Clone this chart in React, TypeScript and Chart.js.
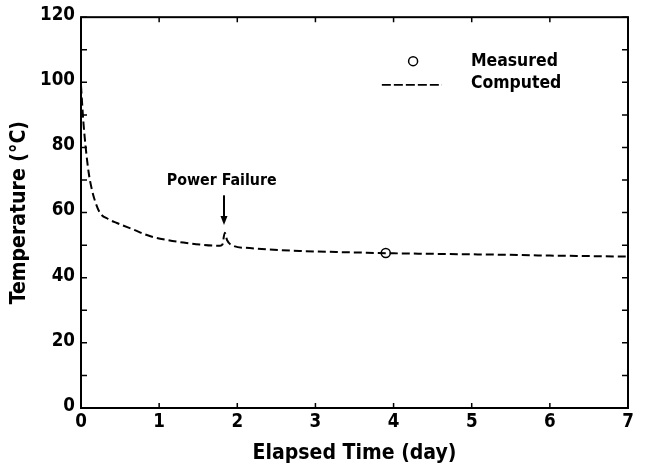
import React, { useEffect, useRef } from "react";
import { Chart, registerables } from "chart.js";

Chart.register(...registerables);

const timeDays = [0, 0.03, 0.06, 0.1, 0.14, 0.18, 0.24, 0.35, 0.46, 0.67, 0.88, 1.1, 1.31, 1.52, 1.78, 1.81, 1.84, 1.87, 1.95, 2.16, 2.38, 2.8, 3.44, 4.0, 4.6, 5.28, 6.0, 7.0];
const computedTemp = [99, 88, 80, 72, 67, 63.5, 60, 58, 56.8, 54.8, 52.8, 51.6, 50.8, 50.2, 49.8, 50.2, 53.8, 51.5, 49.8, 49.1, 48.7, 48.2, 47.8, 47.5, 47.3, 47.1, 46.8, 46.5];
const measuredTime = [3.9];
const measuredTemp = [47.6];
const xTicks = [0, 1, 2, 3, 4, 5, 6, 7];
const yTicks = [0, 20, 40, 60, 80, 100, 120];
const yMinorTicks = [10, 30, 50, 70, 90, 110];
const legendLabels = ["Measured", "Computed"];
const annotationText = "Power Failure";
const xTitle = "Elapsed Time (day)";
const yTitle = "Temperature (°C)";

const CANDIDATES = ["Liberation Sans Narrow", "DejaVu Sans Condensed", "Arial Narrow"];

function pickFamily(): string {
  const c = document.createElement("canvas").getContext("2d")!;
  const s = "abcdefghijklmnopqrstuvwxyz ABCDEFGHIJ 0123456789";
  for (const name of CANDIDATES) {
    let differs = false;
    for (const base of ["monospace", "serif"]) {
      c.font = `bold 20px ${base}`;
      const w1 = c.measureText(s).width;
      c.font = `bold 20px '${name}', ${base}`;
      const w2 = c.measureText(s).width;
      if (Math.abs(w1 - w2) > 0.5) differs = true;
    }
    if (differs) return `'${name}', 'Liberation Sans', Arial, sans-serif`;
  }
  return "'Liberation Sans', Arial, sans-serif";
}

function fitSize(family: string, text: string, target: number, maxSize: number): number {
  const c = document.createElement("canvas").getContext("2d")!;
  c.font = `bold 100px ${family}`;
  const w = c.measureText(text).width;
  return Math.min(maxSize, (100 * target) / w);
}

export default function App() {
  const ref = useRef<HTMLCanvasElement | null>(null);
  useEffect(() => {
    if (!ref.current) return;
    const FONT = pickFamily();
    const tickSize = fitSize(FONT, "120", 35, 24);
    const titleSize = fitSize(FONT, xTitle, 204, 28);
    const legendSize = fitSize(FONT, legendLabels[0], 87, 24);
    const annSize = fitSize(FONT, annotationText, 110, 22);

    const framePlugin = {
      id: "frame",
      afterDatasetsDraw(chart: any) {
        const { ctx, chartArea: a, scales } = chart;
        const xs = scales.x;
        const ys = scales.y;
        ctx.save();
        ctx.strokeStyle = "#000";
        ctx.fillStyle = "#000";
        ctx.lineWidth = 2;
        ctx.strokeRect(a.left, a.top, a.right - a.left, a.bottom - a.top);
        ctx.lineWidth = 1.5;
        xTicks.forEach((v) => {
          const px = xs.getPixelForValue(v);
          ctx.beginPath();
          ctx.moveTo(px, a.bottom);
          ctx.lineTo(px, a.bottom - 5);
          ctx.moveTo(px, a.top);
          ctx.lineTo(px, a.top + 5);
          ctx.stroke();
        });
        [...yTicks, ...yMinorTicks].forEach((v) => {
          const py = ys.getPixelForValue(v);
          ctx.beginPath();
          ctx.moveTo(a.left, py);
          ctx.lineTo(a.left + 6, py);
          ctx.moveTo(a.right, py);
          ctx.lineTo(a.right - 6, py);
          ctx.stroke();
        });
        // Legend
        const cx = xs.getPixelForValue(4.25);
        const ly1 = ys.getPixelForValue(106.5);
        const ly2 = ys.getPixelForValue(99.5);
        const lineL = xs.getPixelForValue(3.85);
        const lineR = xs.getPixelForValue(4.62);
        const textX = xs.getPixelForValue(4.99);
        ctx.lineWidth = 1.5;
        ctx.beginPath();
        ctx.arc(cx, ly1, 4.5, 0, Math.PI * 2);
        ctx.stroke();
        ctx.lineWidth = 1.8;
        ctx.setLineDash([9, 3]);
        ctx.beginPath();
        ctx.moveTo(lineL, ly2 + 1);
        ctx.lineTo(lineR, ly2 + 1);
        ctx.stroke();
        ctx.setLineDash([]);
        ctx.font = `bold ${legendSize}px ${FONT}`;
        ctx.textBaseline = "middle";
        ctx.textAlign = "left";
        ctx.fillText(legendLabels[0], textX, ly1);
        ctx.fillText(legendLabels[1], textX, ly2);
        // annotation
        const ax = xs.getPixelForValue(1.83);
        ctx.textAlign = "center";
        ctx.font = `bold ${annSize}px ${FONT}`;
        ctx.fillText(annotationText, xs.getPixelForValue(1.8), ys.getPixelForValue(69.8));
        ctx.lineWidth = 2;
        ctx.beginPath();
        ctx.moveTo(ax, ys.getPixelForValue(65.3));
        ctx.lineTo(ax, ys.getPixelForValue(58));
        ctx.stroke();
        const tipY = ys.getPixelForValue(56.2);
        ctx.beginPath();
        ctx.moveTo(ax, tipY);
        ctx.lineTo(ax - 3.5, tipY - 9);
        ctx.lineTo(ax + 3.5, tipY - 9);
        ctx.closePath();
        ctx.fill();
        ctx.restore();
      },
    };

    const chart = new Chart(ref.current, {
      type: "scatter",
      data: {
        datasets: [
          {
            label: legendLabels[1],
            data: timeDays.map((t, i) => ({ x: t, y: computedTemp[i] })),
            showLine: true,
            borderColor: "#000",
            borderWidth: 2,
            borderDash: [8, 4],
            pointRadius: 0,
            cubicInterpolationMode: "monotone",
          },
          {
            label: legendLabels[0],
            data: measuredTime.map((t, i) => ({ x: t, y: measuredTemp[i] })),
            showLine: false,
            borderColor: "#000",
            backgroundColor: "#fff",
            borderWidth: 1.5,
            pointRadius: 4.5,
          },
        ],
      },
      options: {
        animation: false,
        responsive: false,
        maintainAspectRatio: false,
        layout: { padding: { top: 11, right: 17, left: 0, bottom: 0 } },
        plugins: { legend: { display: false }, tooltip: { enabled: false } },
        scales: {
          x: {
            type: "linear",
            min: 0,
            max: 7,
            afterFit: (s: any) => { s.height = 61; },
            afterBuildTicks: (s: any) => { s.ticks = xTicks.map((v) => ({ value: v })); },
            grid: { display: false, drawTicks: false },
            border: { display: false },
            ticks: { color: "#000", padding: 3, font: { family: FONT, size: tickSize, weight: "bold" } },
            title: {
              display: true,
              text: xTitle,
              color: "#000",
              font: { family: FONT, size: titleSize, weight: "bold" },
              padding: { top: 0, bottom: 3 },
            },
          },
          y: {
            type: "linear",
            min: 0,
            max: 120,
            afterFit: (s: any) => { s.width = 81; },
            afterBuildTicks: (s: any) => { s.ticks = yTicks.map((v) => ({ value: v })); },
            grid: { display: false, drawTicks: false },
            border: { display: false },
            ticks: { color: "#000", padding: 6, labelOffset: -2, font: { family: FONT, size: tickSize, weight: "bold" } },
            title: {
              display: true,
              text: yTitle,
              color: "#000",
              font: { family: FONT, size: titleSize, weight: "bold" },
              padding: { top: 7, bottom: 0 },
            },
          },
        },
      },
      plugins: [framePlugin],
    });
    return () => chart.destroy();
  }, []);
  return (
    <div style={{ position: "fixed", left: 0, top: 0, width: 645, height: 469, background: "#fff" }}>
      <canvas ref={ref} width={645} height={469} style={{ width: 645, height: 469 }} />
    </div>
  );
}
